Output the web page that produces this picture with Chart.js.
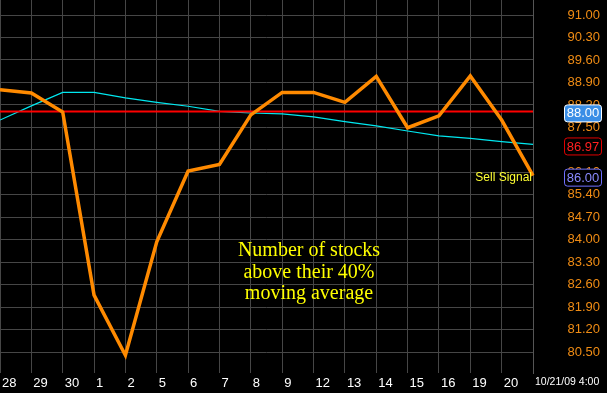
<!DOCTYPE html>
<html lang="en">
<head>
<meta charset="utf-8"/>
<title>Stocks above 40% moving average</title>
<style>
  html, body { margin: 0; padding: 0; background: #000; }
  canvas { display: block; background: #000; }
</style>
</head>
<body>
<canvas id="chart" width="607" height="393"></canvas>
<script src="https://cdn.jsdelivr.net/npm/chart.js@4"></script>
<script>
// day labels (last slot is the current bar, 10/21/09 4:00)
const days = ['28', '29', '30', '1', '2', '5', '6', '7', '8', '9', '12', '13', '14', '15', '16', '19', '20', '10/21/09 4:00'];
// % of stocks above their 40 day moving average
const breadth = [88.67, 88.57, 87.98, 82.28, 80.41, 83.94, 86.14, 86.35, 87.89, 88.59, 88.59, 88.28, 89.09, 87.49, 87.86, 89.10, 87.73, 86.00];
// its moving average (cyan)
const breadthAvg = [87.73, 88.17, 88.59, 88.59, 88.42, 88.28, 88.16, 88.00, 87.95, 87.92, 87.83, 87.68, 87.55, 87.39, 87.24, 87.16, 87.06, 86.97];
// red signal level
const signalLevel = 88.00;
const yTicks = [80.50, 81.20, 81.90, 82.60, 83.30, 84.00, 84.70, 85.40, 86.10, 86.80, 87.50, 88.20, 88.90, 89.60, 90.30, 91.00];
const noteLines = ['Number of stocks', 'above their 40%', 'moving average'];

const gridColor = '#464646';
const sans = 'Liberation Sans, Arial, sans-serif';

const overlay = {
  id: 'overlay',
  afterDraw(chart) {
    const ctx = chart.ctx;
    const y = chart.scales.y;
    const x = chart.scales.x;
    const area = chart.chartArea;

    // note in the middle of the plot
    ctx.save();
    ctx.font = '20px "Liberation Serif", "DejaVu Serif", serif';
    ctx.fillStyle = '#ffff00';
    ctx.textAlign = 'center';
    ctx.textBaseline = 'alphabetic';
    noteLines.forEach((t, i) => ctx.fillText(t, 309, 256 + i * 21.5));

    // sell signal next to the last bar
    const last = days.length - 1;
    const lx = x.getPixelForValue(last);
    const ly = y.getPixelForValue(breadth[last]);
    ctx.font = '12px ' + sans;
    ctx.fillStyle = '#ffff33';
    ctx.textAlign = 'right';
    ctx.fillText('Sell Signal', lx - 1, ly + 5);

    // value boxes on the price axis
    function box(value, fill, stroke, color) {
      const cy = y.getPixelForValue(value) + 1.5;
      const bx = area.right + 31, bw = 37, bh = 17;
      ctx.beginPath();
      ctx.roundRect(bx + 0.5, cy - bh / 2 + 0.5, bw, bh, 3);
      ctx.fillStyle = fill;
      ctx.fill();
      ctx.lineWidth = 1;
      ctx.strokeStyle = stroke;
      ctx.stroke();
      ctx.font = '13px ' + sans;
      ctx.fillStyle = color;
      ctx.textAlign = 'center';
      ctx.textBaseline = 'middle';
      ctx.fillText(value.toFixed(2), bx + bw / 2 + 0.5, cy + 1);
    }
    box(signalLevel, '#3a8ee6', '#ffffff', '#ffffff');
    box(breadthAvg[last], '#000000', '#e00000', '#ff2020');
    box(breadth[last], '#000000', '#7070ff', '#8a8aff');
    ctx.restore();
  }
};

function noPad(a) {
  a.paddingTop = 0;
  a.paddingBottom = 0;
  a.paddingLeft = 0;
  a.paddingRight = 0;
}

new Chart(document.getElementById('chart'), {
  type: 'line',
  data: {
    labels: days,
    datasets: [
      { data: breadth, borderColor: '#ff8a00', borderWidth: 3.5, pointRadius: 0, tension: 0 },
      { data: days.map(() => signalLevel), borderColor: '#ff0000', borderWidth: 2, pointRadius: 0 },
      { data: breadthAvg, borderColor: '#00e8f0', borderWidth: 1.2, pointRadius: 0, tension: 0 }
    ]
  },
  options: {
    responsive: false,
    animation: false,
    devicePixelRatio: 1,
    layout: { padding: { left: 0, top: 0, right: 7, bottom: 0 } },
    plugins: { legend: { display: false }, tooltip: { enabled: false } },
    scales: {
      x: {
        offset: false,
        grid: { color: gridColor, drawTicks: false },
        border: { display: false },
        ticks: {
          autoSkip: false,
          maxRotation: 0,
          minRotation: 0,
          align: 'start',
          labelOffset: 2,
          padding: 3,
          color: '#ffffff',
          font: c => c.index === days.length - 1 ? { family: sans, size: 10.5 } : { family: sans, size: 13 }
        },
        afterFit: a => { a.height = 20; noPad(a); }
      },
      y: {
        position: 'right',
        min: 79.856,
        max: 91.467,
        grid: { color: gridColor, drawTicks: false },
        border: { display: true, color: '#555555' },
        afterBuildTicks: a => { a.ticks = yTicks.map(v => ({ value: v })); },
        afterFit: a => { a.width = 67; noPad(a); },
        ticks: {
          crossAlign: 'far',
          color: '#f08c14',
          font: { family: sans, size: 13 },
          callback: v => Number(v).toFixed(2)
        }
      }
    }
  },
  plugins: [overlay]
});
</script>
</body>
</html>
